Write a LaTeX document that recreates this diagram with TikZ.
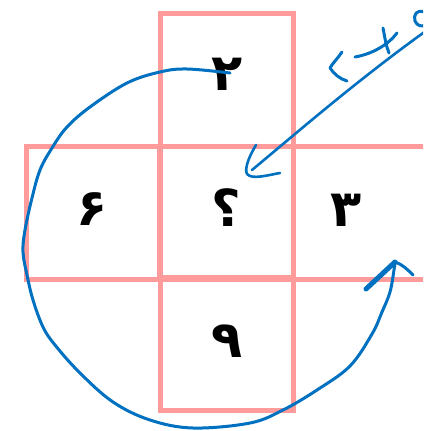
\documentclass[tikz,border=0pt]{standalone}
\usepackage{fontspec}
\newfontfamily\arabicfont[Script=Arabic]{DejaVu Sans}
\TeXXeTstate=1
\definecolor{boxpink}{RGB}{255,155,155}
\definecolor{penblue}{RGB}{0,112,192}
\tikzset{
  cell/.style={draw=boxpink, line width=5pt, minimum width=133pt, minimum height=133pt, inner sep=0pt, outer sep=0pt},
  digit/.style={font=\arabicfont\bfseries\fontsize{51}{51}\selectfont, inner sep=0pt},
  pen/.style={draw=penblue, line width=3pt, line cap=round, line join=round},
}
\begin{document}
\begin{tikzpicture}[x=1pt,y=-1pt]
\useasboundingbox (0,0) rectangle (423,431);
\clip (0,0) rectangle (423,431);
% cells
\node[cell] (top) at (226.5,80) {};
\node[cell] (left) at (92.5,212.5) {};
\node[cell] (mid) at (226.5,212.5) {};
\node[cell] (right) at (359.5,212.5) {};
\node[cell] (bot) at (226.5,344) {};
% digits
\node[digit] (d2) at (227,74) {\beginR ۲\endR};
\node[digit] (d6) at (92,209) {\beginR ۶\endR};
\node[digit] (dq) at (226,208) {\beginR ؟\endR};
\node[digit] (d3) at (346,210) {\beginR ۳\endR};
\node[digit] (d9) at (227,341) {\beginR ۹\endR};
% spiral
\coordinate (sstart) at (230,73);
\coordinate (stip) at (395,262);
\draw[pen] plot[smooth, tension=0.6] coordinates {(230,73) (187,69) (160,72) (127,83) (90,107) (67,127) (52,148) (40,170) (32,198) (25,230) (23,252) (27,275) (33,300) (43,327) (55,345) (80,373) (113,402) (150,420) (193,428) (250,423) (283,410) (317,390) (350,366) (372,334) (382,312) (390,292) (394,270) (395,262)};
\draw[pen, line width=5pt] (366,289) -- (stip);
\draw[pen] (stip) .. controls (402,264) and (408,270) .. (413,275);
% diagonal arrow
\coordinate (aend) at (430,28);
\coordinate (atip) at (248,174);
\draw[pen, line width=2.6pt] (aend) .. controls (360,78) and (300,130) .. (252,170);
\draw[pen, line width=2.6pt] (256,145) .. controls (250,155) and (244,168) .. (247,174) .. controls (252,180) and (268,175) .. (280,173);
% handwritten annotation
\draw[pen] (342,52) .. controls (338,58) and (332,64) .. (330,68) .. controls (334,74) and (340,79) .. (347,81);
\draw[pen] (355,57) .. controls (372,54) and (388,45) .. (397,33);
\draw[pen] (383,28) .. controls (385,38) and (386,46) .. (389,53);
\draw[pen] (424,12) .. controls (417,9) and (413,15) .. (415,21) .. controls (417,26) and (422,27) .. (425,25);
\end{tikzpicture}
\end{document}
